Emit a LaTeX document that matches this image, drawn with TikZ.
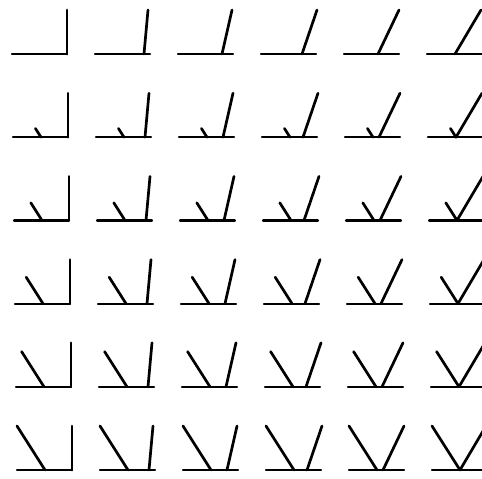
\documentclass[tikz,border=0pt]{standalone}
\begin{document}
\begin{tikzpicture}[x=1pt,y=-1pt,
  stroke/.style={line width=2.7pt,line cap=round},
  baseline stroke/.style={line width=2.2pt,line cap=round}]
\useasboundingbox (0,0) rectangle (482,479);
\foreach \c/\b/\dx in {0/55/0,1/49/4,2/44/10,3/41/15,4/34/21,5/28/26}{
  \foreach \r in {0,...,5}{
    \pgfmathsetmacro\L{12+83*\c+\r}
    \pgfmathsetmacro\Y{54+83.2*\r}
    \coordinate (h-\r-\c) at (\L,\Y);
    \coordinate (e-\r-\c) at (\L+55,\Y);
    \coordinate (rb-\r-\c) at (\L+\b,\Y);
    \coordinate (rt-\r-\c) at (\L+\b+\dx,\Y-44);
    \draw[baseline stroke] (h-\r-\c) -- (e-\r-\c);
    \draw[stroke] (rb-\r-\c) -- (rt-\r-\c);
    \ifnum\r>0
      \coordinate (lb-\r-\c) at (\L+28,\Y);
      \coordinate (lt-\r-\c) at (\L+28-5.6*\r,\Y-8.8*\r);
      \draw[stroke] (lb-\r-\c) -- (lt-\r-\c);
    \fi
  }
}
\end{tikzpicture}
\end{document}
